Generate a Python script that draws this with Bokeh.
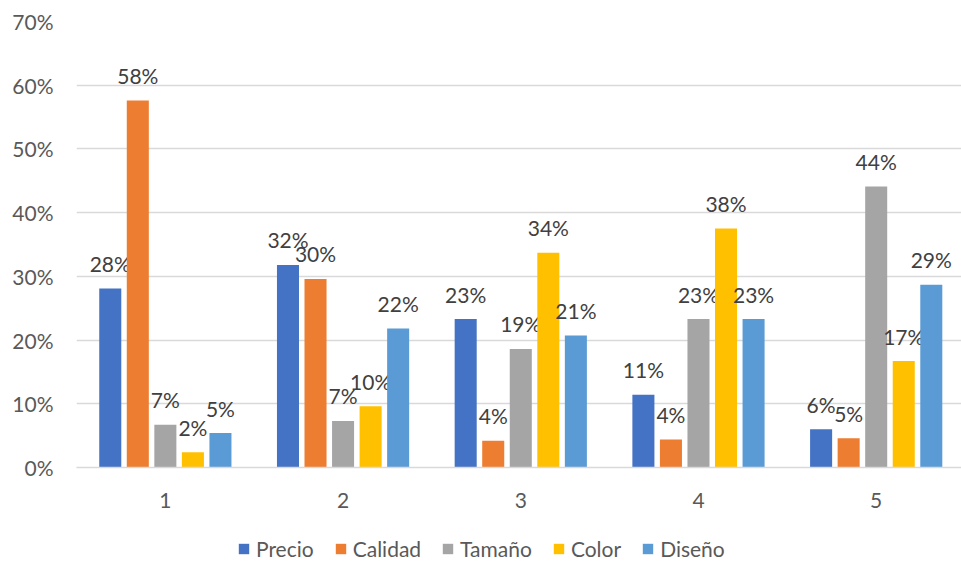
from bokeh.plotting import figure
from bokeh.layouts import column
from bokeh.models import (ColumnDataSource, FixedTicker, NumeralTickFormatter,
                          Legend, LegendItem, Range1d)
from bokeh.transform import dodge
from bokeh.embed import file_html
from bokeh.resources import INLINE
from bokeh.core.properties import value

categories = [1, 2, 3, 4, 5]
series_names = ["Precio", "Calidad", "Tamaño", "Color", "Diseño"]
precio = [0.281, 0.318, 0.233, 0.114, 0.060]
calidad = [0.576, 0.296, 0.042, 0.044, 0.046]
tamano = [0.067, 0.073, 0.186, 0.233, 0.441]
color = [0.024, 0.096, 0.337, 0.375, 0.167]
diseno = [0.054, 0.218, 0.207, 0.233, 0.287]
y_ticks = [0.0, 0.1, 0.2, 0.3, 0.4, 0.5, 0.6, 0.7]

series_values = [precio, calidad, tamano, color, diseno]
colors = ["#4472C4", "#ED7D31", "#A5A5A5", "#FFC000", "#5B9BD5"]
FONT = "Lato"
FS = "21px"

p = figure(width=961, height=520, output_backend="svg", toolbar_location=None,
           x_range=Range1d(0.5, 5.48), y_range=Range1d(0, 0.7),
           min_border_left=76, min_border_right=0, min_border_top=21,
           min_border_bottom=53)
p.outline_line_color = None
p.background_fill_color = "white"
p.border_fill_color = "white"

# legend strip (frame aligned with main plot by the column layout);
# its y range lies far above the data so the bars are not shown there
lg = figure(width=961, height=41, output_backend="svg", toolbar_location=None,
            x_range=Range1d(0.5, 5.48), y_range=Range1d(10, 11),
            min_border_left=76, min_border_right=0, min_border_top=0,
            min_border_bottom=0)
lg.axis.visible = False
lg.grid.visible = False
lg.outline_line_color = None

pitch = 0.155
bw = 0.124
items = []
for i, (name, vals, c) in enumerate(zip(series_names, series_values, colors)):
    off = (i - 2) * pitch
    src = ColumnDataSource(dict(x=categories, top=vals,
                                lbl=[f"{round(v * 100)}%" for v in vals]))
    p.vbar(x=dodge("x", off, range=p.x_range), top="top", width=bw,
           source=src, fill_color=c, line_color=None)
    p.text(x=dodge("x", off, range=p.x_range), y="top", text="lbl", source=src,
           text_align="center", text_baseline="middle", y_offset=-25,
           text_font=value(FONT), text_font_size=FS, text_color="#404040")
    r = lg.vbar(x="x", top="top", width=bw, source=src,
                fill_color=c, line_color=None)
    items.append(LegendItem(label=name, renderers=[r]))

# axes
p.xaxis.ticker = FixedTicker(ticks=categories)
p.xaxis.major_tick_line_color = None
p.xaxis.minor_tick_line_color = None
p.xaxis.axis_line_color = "#D9D9D9"
p.xaxis.axis_line_width = 1.5
p.xaxis.major_label_standoff = 19
p.xaxis.major_label_text_font = FONT
p.xaxis.major_label_text_font_size = FS
p.xaxis.major_label_text_color = "#595959"

p.yaxis.ticker = FixedTicker(ticks=y_ticks)
p.yaxis.formatter = NumeralTickFormatter(format="0%")
p.yaxis.axis_line_color = None
p.yaxis.major_tick_line_color = None
p.yaxis.minor_tick_line_color = None
p.yaxis.major_label_standoff = 17
p.yaxis.major_label_text_font = FONT
p.yaxis.major_label_text_font_size = FS
p.yaxis.major_label_text_color = "#595959"

p.xgrid.grid_line_color = None
p.ygrid.ticker = FixedTicker(ticks=y_ticks)
p.ygrid.grid_line_color = "#D9D9D9"
p.ygrid.grid_line_width = 1.5

legend = Legend(items=items, orientation="horizontal", location=(161, 0),
                border_line_color=None, background_fill_alpha=0,
                padding=0, margin=0, spacing=20, label_standoff=6,
                glyph_width=13, glyph_height=13,
                label_text_font=FONT, label_text_font_size=FS,
                label_text_color="#595959")
lg.add_layout(legend, "center")

layout = column(p, lg, spacing=0)
open("out.html", "w").write(file_html(layout, INLINE))
